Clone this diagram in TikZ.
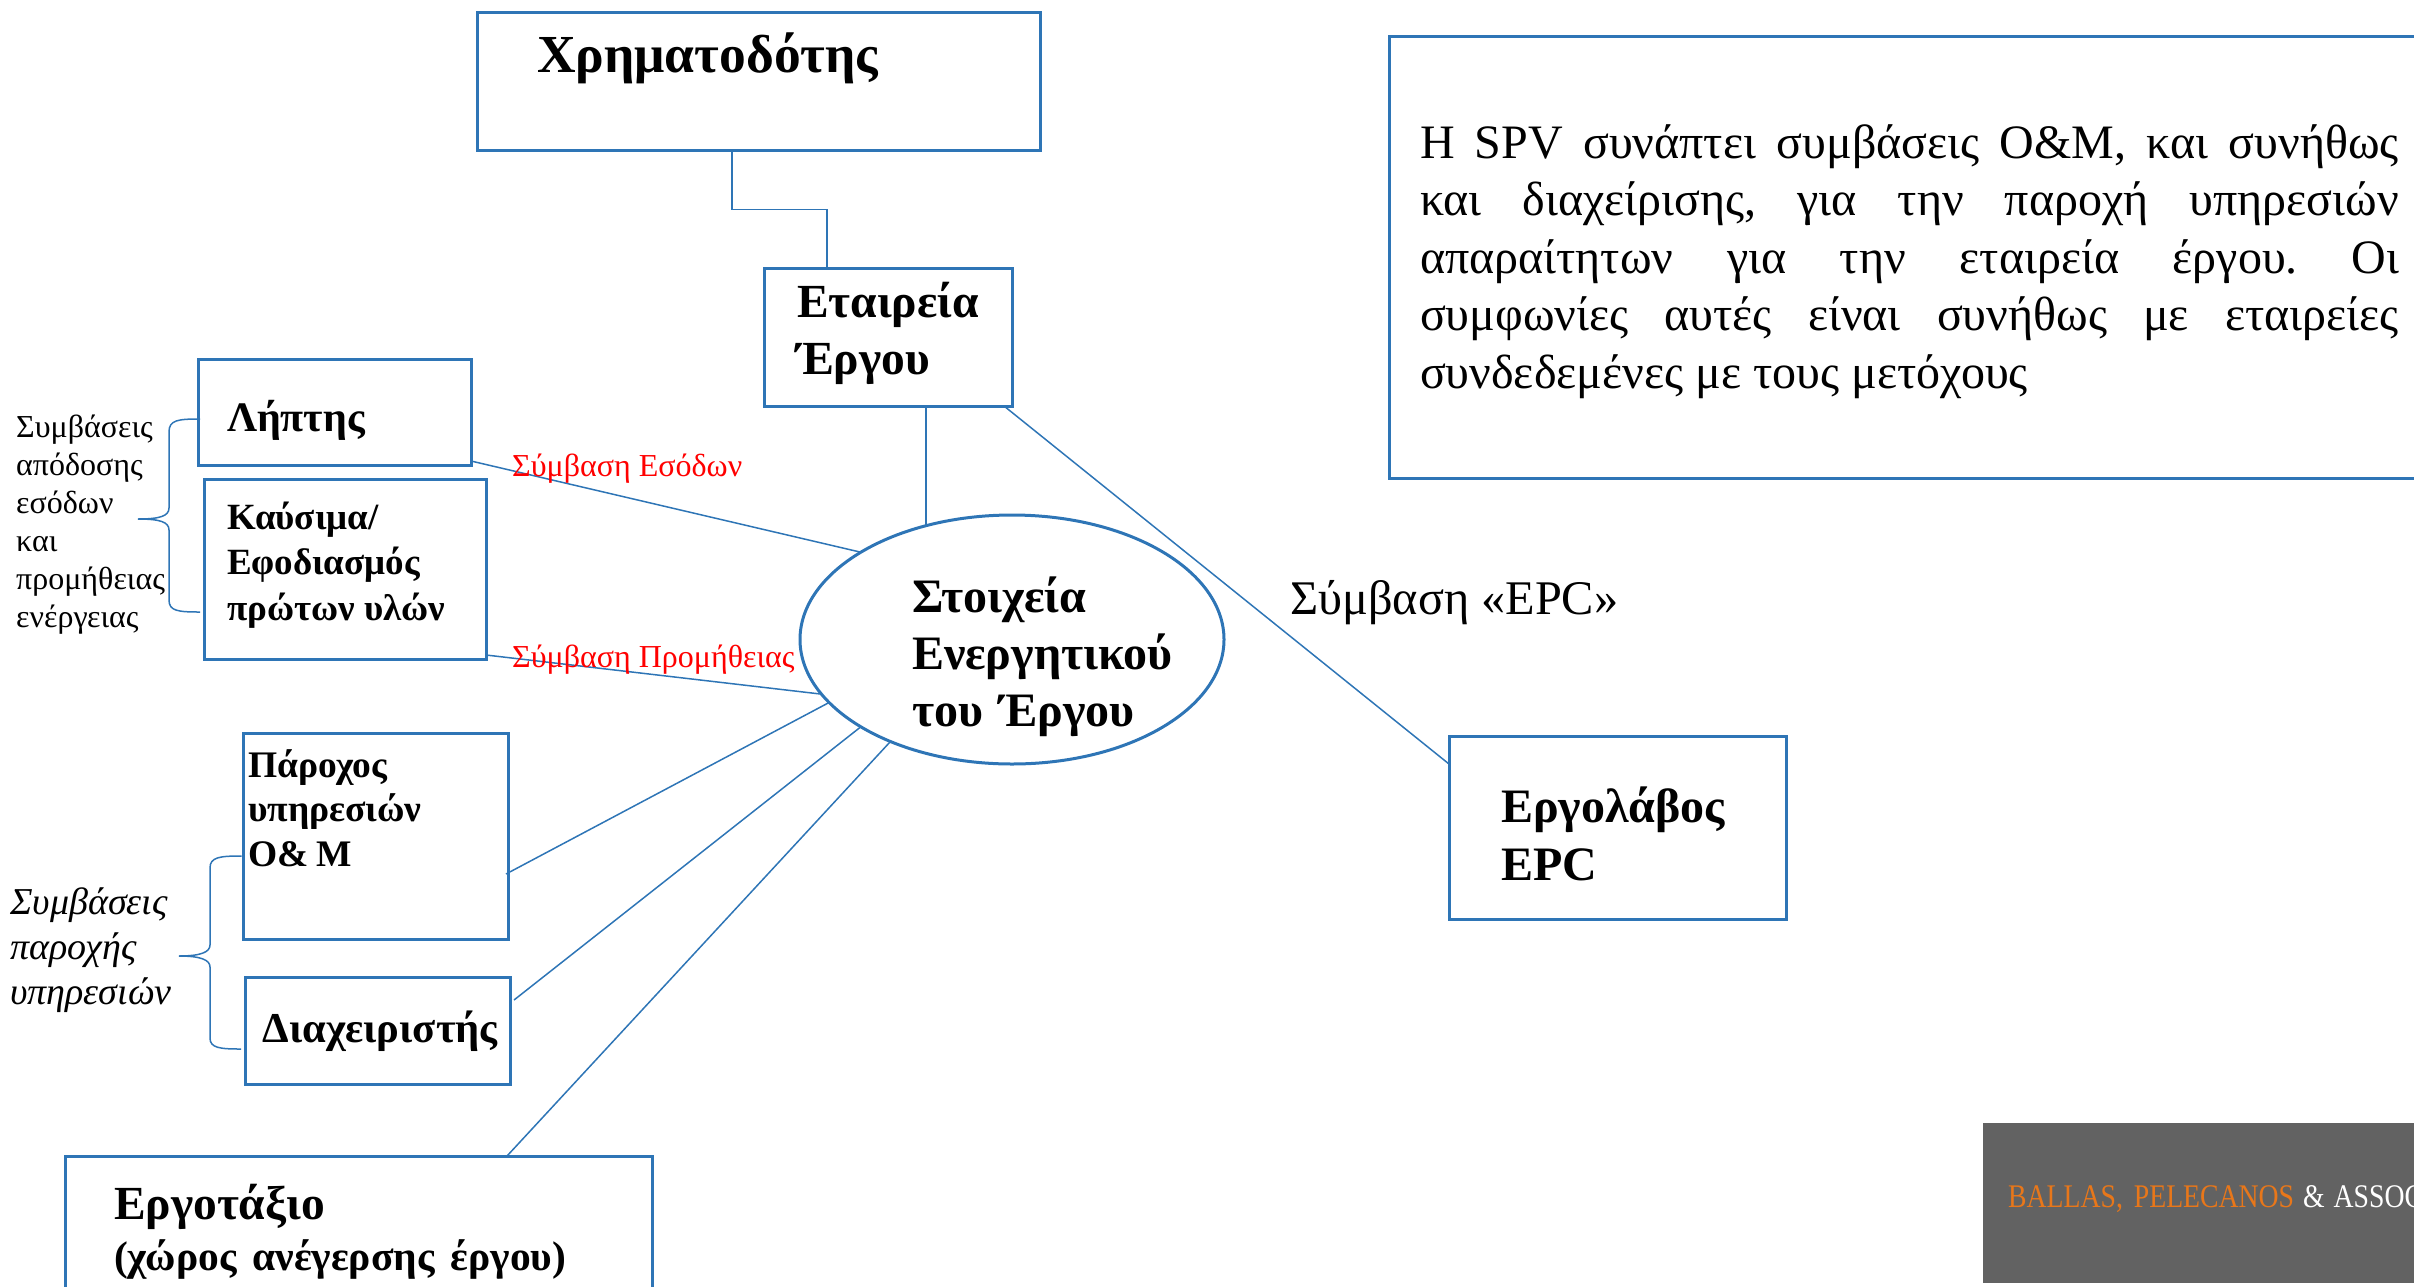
\documentclass[tikz,border=0pt]{standalone}
\usepackage{fontspec}
\setmainfont{Liberation Serif}
\newfontfamily\bannerfont[FakeStretch=0.84]{Liberation Serif}
\usetikzlibrary{positioning,shapes.geometric}
\definecolor{boxblue}{HTML}{2E75B6}
\definecolor{bannergrey}{HTML}{626262}
\definecolor{bannerorange}{HTML}{E8771A}
\newcommand{\fs}[2]{\fontsize{#1}{#2}\selectfont}
\tikzstyle{block}=[rectangle,draw=boxblue,line width=3pt,anchor=north west,inner sep=0pt,outer sep=0pt,align=left]
\tikzstyle{asset}=[ellipse,draw=boxblue,line width=3pt,inner sep=0pt,outer sep=0pt,minimum width=424pt,minimum height=249pt,align=left]
\tikzstyle{link}=[draw=boxblue,line width=1.5pt]
\tikzstyle{contract}=[anchor=base west,inner sep=0pt,text=red,font=\fs{32}{36}]
\tikzstyle{note}=[anchor=north west,inner sep=0pt,align=left]

\begin{document}
\frenchspacing
\begin{tikzpicture}[x=1pt,y=-1pt]
            \path[use as bounding box,clip] (0,0) rectangle (2414,1286);

            % Funding PART

            \node[block,text width=443pt,inner xsep=60pt,text height=59.5pt,text depth=78pt,font=\fs{53.5}{62}\bfseries] (fin) at (477,12.5) {Χρηματοδότης};
            \node[block,text width=182pt,inner xsep=33pt,text height=49pt,text depth=89pt,font=\fs{47.5}{57}\bfseries] (comp) at (764,268) {Εταιρεία\\\hspace*{-1pt}Έργου};
            \node[asset,text width=200pt,text height=33pt,text depth=88pt,font=\fs{48}{57}\bfseries] (assets) at (1012,639.5) {Στοιχεία\\\mbox{Ενεργητικού}\\\mbox{του Έργου}};

            \draw[link] ([xshift=255pt]fin.south west) -- ++(0,59.5) -| ([xshift=63pt]comp.north west);
            \path[link] (assets.127 |- comp.south) edge (assets.127);

            % Offtake and supply PART

            \node[block,text width=215pt,inner xsep=29pt,text height=72pt,text depth=34pt,font=\fs{42}{45.5}\bfseries] (lipt) at (198,359) {Λήπτης};
            \node[block,below=14pt of lipt.south west,anchor=north west,xshift=6pt,text width=236pt,inner xsep=23pt,text height=50pt,text depth=130pt,font=\fs{37}{45.5}\bfseries] (fuel) {Καύσιμα/\\Εφοδιασμός\\πρώτων\hspace{-3pt} υλών};

            \path[link] ([yshift=4pt]lipt.south east) edge (assets.150);
            \path[link] ([yshift=4pt]fuel.south east) edge (assets.196);

            \node[contract] (tincome) at (512,476) {Σύμβαση Εσόδων};
            \node[contract] (tsupply) at (512,667.5) {Σύμβαση Προμήθειας};

            \node[note,text width=170pt,font=\fs{32}{38}] (tleft) at (16,414.5) {Συμβάσεις\\απόδοσης\\εσόδων\\και\\προμήθειας\\ενέργειας};

            \coordinate (b1tip) at (138,519);
            \draw[link] ([xshift=2pt,yshift=46pt]lipt.south west) .. controls (178,419) and (169,420) .. (169,432) -- (169,508) .. controls (169,516) and (160,519) .. (b1tip);
            \draw[link] ([xshift=-4pt,yshift=47pt]fuel.south west) .. controls (178,612) and (169,611) .. (169,600) -- (169,530) .. controls (169,522) and (160,519) .. (b1tip);

            % Services PART

            \node[block,text width=255pt,inner xsep=5pt,text height=44pt,text depth=162pt,font=\fs{37.5}{44.5}\bfseries] (oandm) at (243,733) {Πάροχος\\υπηρεσιών\\Ο\&\hspace{-4pt} Μ};
            \node[block,below=38pt of oandm.south west,anchor=north west,xshift=2pt,text width=234pt,inner xsep=15.5pt,text height=65pt,text depth=42pt,font=\fs{42.5}{45}\bfseries] (manager) {\hspace*{2pt}\mbox{Διαχειριστής}};

            \path[link] ([xshift=-2pt,yshift=65pt]oandm.south east) edge (assets.199);
            \path[link] ([xshift=4pt,yshift=-23pt]manager.north east) edge (assets.210);

            \node[note,text width=170pt,font=\fs{38}{45}\itshape] (tservices) at (10,888) {Συμβάσεις\\παροχής\\υπηρεσιών};

            \coordinate (b2tip) at (179,956);
            \draw[link] ([xshift=-1.5pt,yshift=83pt]oandm.south west) .. controls (220,856) and (210,857) .. (210,868) -- (210,945) .. controls (210,952) and (201,956) .. (b2tip);
            \draw[link] ([xshift=-4pt,yshift=35pt]manager.south west) .. controls (220,1049) and (210,1048) .. (210,1038) -- (210,967) .. controls (210,960) and (201,956) .. (b2tip);

            % Site PART

            \node[block,text width=489pt,inner xsep=49pt,text height=63pt,text depth=100pt,font=\fs{47.5}{51}\bfseries] (site) at (65,1156) {Εργοτάξιο\\{\fs{41.5}{51}\bfseries (χώρος ανέγερσης έργου)}};

            \path[link] ([xshift=442pt]site.north west) edge (assets.220);

            % EPC PART

            \node[block,text width=233pt,inner xsep=52pt,text height=86pt,text depth=97pt,font=\fs{48}{58}\bfseries] (epc) at (1449,736) {Εργολάβος\\EPC};
            \path[link] ([xshift=-8pt]comp.south east) edge ([yshift=-28pt]epc.north west);

            \node[anchor=base west,inner sep=0pt,font=\fs{48.3}{52}] (tepc) at (1290,614.5) {Σύμβαση «EPC»};

            % Text and banner PART

            \node[block,text width=979pt,inner xsep=31pt,text height=122pt,text depth=320pt,font=\fs{48}{57.5},align=justify] (spv) at (1389,36) {Η SPV συνάπτει συμβάσεις O\&M, και συνήθως\linebreak και διαχείρισης, για την παροχή υπηρεσιών\linebreak απαραίτητων για την εταιρεία έργου. Οι\linebreak συμφωνίες αυτές είναι συνήθως με εταιρείες\linebreak συνδεδεμένες με τους μετόχους};

            \node[rectangle,fill=bannergrey,anchor=north west,inner ysep=0pt,inner xsep=25pt,text width=460pt,text height=84pt,text depth=76pt,align=left,font=\fs{33}{38}\bannerfont] (banner) at (1983,1123) {\mbox{\textcolor{bannerorange}{BALLAS, PELECANOS}\hspace{-2pt} \textcolor{white}{\&\hspace{-2pt} ASSOC}}};

\end{tikzpicture}
\end{document}
